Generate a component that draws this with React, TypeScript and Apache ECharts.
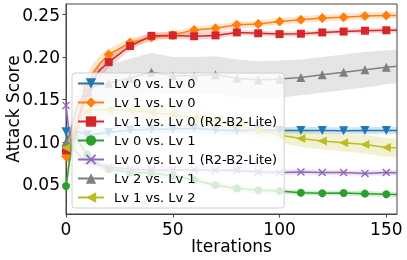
import React, { useEffect, useRef } from "react";
import * as echarts from "echarts";

// ---- data ----
const iterations = [0, 1, 2, 3, 4, 5, 6, 8, 10, 13, 16, 20, 30, 40, 50, 60, 70, 80, 90, 100, 110, 120, 130, 140, 150, 155];

const seriesNames = [
  "Lv 0 vs. Lv 0",
  "Lv 1 vs. Lv 0",
  "Lv 1 vs. Lv 0 (R2-B2-Lite)",
  "Lv 0 vs. Lv 1",
  "Lv 0 vs. Lv 1 (R2-B2-Lite)",
  "Lv 2 vs. Lv 1",
  "Lv 1 vs. Lv 2",
];

const lv0VsLv0 = [0.112, 0.1, 0.095, 0.1, 0.105, 0.11, 0.112, 0.11, 0.108, 0.109, 0.11, 0.111, 0.114, 0.115, 0.115, 0.116, 0.114, 0.113, 0.114, 0.1135, 0.1135, 0.1135, 0.113, 0.1135, 0.1135, 0.1135];
const lv0VsLv0Band = [0.01, 0.01, 0.01, 0.01, 0.01, 0.009, 0.009, 0.008, 0.007, 0.006, 0.006, 0.005, 0.005, 0.005, 0.005, 0.005, 0.005, 0.004, 0.004, 0.004, 0.004, 0.004, 0.004, 0.004, 0.004, 0.004];

const lv1VsLv0 = [0.083, 0.078, 0.088, 0.098, 0.108, 0.118, 0.13, 0.15, 0.166, 0.182, 0.193, 0.203, 0.217, 0.223, 0.226, 0.232, 0.234, 0.238, 0.239, 0.242, 0.244, 0.246, 0.247, 0.2485, 0.249, 0.249];
const lv1VsLv0Band = [0.012, 0.012, 0.012, 0.013, 0.014, 0.015, 0.015, 0.015, 0.014, 0.012, 0.01, 0.007, 0.005, 0.005, 0.004, 0.004, 0.004, 0.004, 0.004, 0.004, 0.004, 0.004, 0.004, 0.004, 0.004, 0.004];

const lv1VsLv0Lite = [0.09, 0.085, 0.09, 0.1, 0.11, 0.118, 0.128, 0.145, 0.158, 0.175, 0.185, 0.194, 0.213, 0.225, 0.2255, 0.2245, 0.2255, 0.229, 0.228, 0.227, 0.2275, 0.229, 0.23, 0.231, 0.2315, 0.2315];
const lv1VsLv0LiteBand = [0.01, 0.01, 0.01, 0.012, 0.013, 0.014, 0.014, 0.014, 0.013, 0.011, 0.009, 0.007, 0.005, 0.004, 0.004, 0.004, 0.004, 0.003, 0.003, 0.003, 0.003, 0.003, 0.003, 0.003, 0.003, 0.003];

const lv0VsLv1 = [0.048, 0.065, 0.085, 0.098, 0.104, 0.104, 0.1, 0.092, 0.085, 0.078, 0.073, 0.068, 0.064, 0.063, 0.06, 0.055, 0.049, 0.045, 0.043, 0.042, 0.04, 0.0395, 0.0397, 0.039, 0.0382, 0.038];
const lv0VsLv1Band = [0.01, 0.01, 0.01, 0.01, 0.01, 0.009, 0.009, 0.008, 0.007, 0.006, 0.005, 0.005, 0.004, 0.004, 0.004, 0.004, 0.004, 0.004, 0.003, 0.003, 0.003, 0.003, 0.003, 0.003, 0.003, 0.003];

const lv0VsLv1Lite = [0.143, 0.12, 0.105, 0.095, 0.09, 0.087, 0.085, 0.08, 0.077, 0.074, 0.072, 0.07, 0.068, 0.067, 0.067, 0.067, 0.0666, 0.0666, 0.0646, 0.0638, 0.0646, 0.064, 0.064, 0.0627, 0.064, 0.0635];
const lv0VsLv1LiteBand = [0.015, 0.014, 0.012, 0.01, 0.009, 0.008, 0.007, 0.006, 0.005, 0.004, 0.004, 0.003, 0.003, 0.003, 0.003, 0.003, 0.003, 0.003, 0.003, 0.003, 0.003, 0.003, 0.003, 0.003, 0.003, 0.003];

const lv2VsLv1 = [0.1, 0.105, 0.11, 0.12, 0.13, 0.14, 0.145, 0.155, 0.16, 0.165, 0.167, 0.169, 0.175, 0.182, 0.178, 0.178, 0.179, 0.175, 0.173, 0.174, 0.176, 0.179, 0.182, 0.185, 0.188, 0.189];
const lv2VsLv1Band = [0.01, 0.01, 0.01, 0.011, 0.012, 0.013, 0.014, 0.016, 0.018, 0.02, 0.021, 0.022, 0.023, 0.023, 0.022, 0.022, 0.022, 0.022, 0.022, 0.022, 0.021, 0.021, 0.021, 0.021, 0.02, 0.02];

const lv1VsLv2 = [0.093, 0.1, 0.105, 0.11, 0.115, 0.12, 0.125, 0.132, 0.136, 0.138, 0.138, 0.138, 0.137, 0.135, 0.132, 0.128, 0.124, 0.119, 0.114, 0.108, 0.104, 0.101, 0.099, 0.097, 0.0935, 0.093];
const lv1VsLv2Band = [0.008, 0.008, 0.008, 0.008, 0.008, 0.008, 0.008, 0.008, 0.008, 0.009, 0.009, 0.009, 0.009, 0.009, 0.009, 0.009, 0.009, 0.009, 0.009, 0.009, 0.01, 0.01, 0.01, 0.011, 0.011, 0.011];

const xTicks = [0, 50, 100, 150];
const yTicks = [0.05, 0.1, 0.15, 0.2, 0.25];

const means = [lv0VsLv0, lv1VsLv0, lv1VsLv0Lite, lv0VsLv1, lv0VsLv1Lite, lv2VsLv1, lv1VsLv2];
const bands = [lv0VsLv0Band, lv1VsLv0Band, lv1VsLv0LiteBand, lv0VsLv1Band, lv0VsLv1LiteBand, lv2VsLv1Band, lv1VsLv2Band];

// ---- styles ----
const X_PATH = "path://M0,1.2L1.2,0L5,3.8L8.8,0L10,1.2L6.2,5L10,8.8L8.8,10L5,6.2L1.2,10L0,8.8L3.8,5Z";
const styles = [
  { color: "#1f77b4", band: "rgba(31,119,180,0.2)", symbol: "triangle", rotate: 180, size: 9 },
  { color: "#ff7f0e", band: "rgba(255,127,14,0.2)", symbol: "diamond", rotate: 0, size: 10 },
  { color: "#d62728", band: "rgba(214,39,40,0.2)", symbol: "rect", rotate: 0, size: 8 },
  { color: "#2ca02c", band: "rgba(44,160,44,0.2)", symbol: "circle", rotate: 0, size: 8 },
  { color: "#9467bd", band: "rgba(148,103,189,0.2)", symbol: X_PATH, rotate: 0, size: 8 },
  { color: "#7f7f7f", band: "rgba(127,127,127,0.2)", symbol: "triangle", rotate: 0, size: 9 },
  { color: "#bcbd22", band: "rgba(188,189,34,0.2)", symbol: "triangle", rotate: 90, size: 9 },
];

const FONT = "DejaVu Sans";

export default function App() {
  const ref = useRef<HTMLDivElement>(null);
  useEffect(() => {
    if (!ref.current) return;
    const chart = echarts.init(ref.current, null, { renderer: "svg" });

    const bandSeries = means.map((m, k) => {
      const lower = m.map((v, i) => v - bands[k][i]);
      const upper = m.map((v, i) => v + bands[k][i]);
      return {
        type: "custom",
        name: "band" + k,
        silent: true,
        z: 1,
        data: iterations.map((x, i) => [x, lower[i], upper[i]]),
        encode: { x: 0, y: [1, 2] },
        renderItem: (params: any, api: any) => {
          if (params.dataIndex !== 0) return null;
          const pts: number[][] = [];
          for (let i = 0; i < iterations.length; i++) pts.push(api.coord([iterations[i], upper[i]]));
          for (let i = iterations.length - 1; i >= 0; i--) pts.push(api.coord([iterations[i], lower[i]]));
          return { type: "polygon", shape: { points: pts }, style: { fill: styles[k].band } };
        },
      };
    });

    const lineSeries = means.map((m, k) => ({
      type: "line",
      name: seriesNames[k],
      z: 3,
      symbol: styles[k].symbol,
      symbolRotate: styles[k].rotate,
      symbolSize: styles[k].size,
      symbolKeepAspect: true,
      showSymbol: true,
      lineStyle: { width: 1.5, color: styles[k].color },
      itemStyle: { color: styles[k].color, borderWidth: 0 },
      emphasis: { disabled: true },
      data: iterations.map((x, i) =>
        x % 10 === 0 ? { value: [x, m[i]] } : { value: [x, m[i]], symbol: "none" }
      ),
    }));

    chart.setOption({
      animation: false,
      textStyle: { fontFamily: FONT },
      grid: { left: 66, right: 10, top: 4, bottom: 46, show: true, borderColor: "#444", borderWidth: 1, containLabel: false, outerBoundsMode: "none" },
      legend: {
        data: seriesNames,
        orient: "vertical",
        left: 72,
        top: 73,
        itemWidth: 26,
        itemHeight: 13,
        itemGap: 6,
        padding: [4, 7, 4, 5],
        backgroundColor: "rgba(255,255,255,0.8)",
        borderColor: "#d0d0d0",
        borderWidth: 1,
        borderRadius: 3,
        selectedMode: false,
        textStyle: { fontSize: 13, color: "#000", fontFamily: FONT, padding: [0, 0, 0, 5] },
      },
      xAxis: {
        type: "value",
        min: 0,
        max: 155,
        interval: 50,
        name: "Iterations",
        nameLocation: "middle",
        nameGap: 23,
        nameMoveOverlap: false,
        nameTextStyle: { fontSize: 17, color: "#000", fontFamily: FONT },
        axisLine: { show: true, lineStyle: { color: "#444", width: 1 } },
        axisTick: { show: true, length: 3.5, lineStyle: { color: "#444" }, customValues: xTicks },
        axisLabel: { fontSize: 17, color: "#000", margin: 6, fontFamily: FONT, customValues: xTicks },
        splitLine: { show: false },
      },
      yAxis: {
        type: "value",
        min: 0.015,
        max: 0.2625,
        name: "Attack Score",
        nameLocation: "middle",
        nameGap: 45,
        nameMoveOverlap: false,
        nameTextStyle: { fontSize: 17, color: "#000", fontFamily: FONT },
        axisLine: { show: true, lineStyle: { color: "#444", width: 1 } },
        axisTick: { show: true, length: 3.5, lineStyle: { color: "#444" }, customValues: yTicks },
        axisLabel: { fontSize: 17, color: "#000", margin: 6, fontFamily: FONT, customValues: yTicks, formatter: (v: number) => v.toFixed(2) },
        splitLine: { show: false },
      },
      series: [...bandSeries, ...lineSeries],
    });
    return () => chart.dispose();
  }, []);
  return <div ref={ref} style={{ position: "fixed", left: 0, top: 0, width: 407, height: 260 }} />;
}
